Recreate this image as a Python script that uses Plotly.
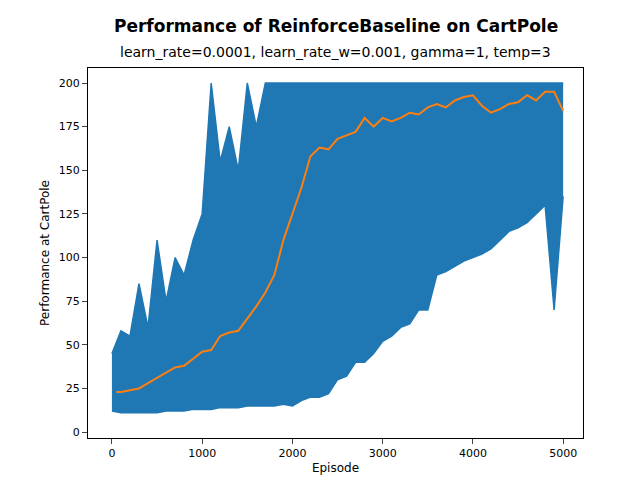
import plotly.graph_objects as go

# episodes sampled every 100 for the raw reward band
ep = list(range(0, 5001, 100))
upper = [45, 58, 55, 85, 60, 110, 75, 100, 90, 110, 125, 200, 155, 175, 150, 200, 175, 200, 200, 200,
         200, 200, 200, 200, 200, 200, 200, 200, 200, 200, 200, 200, 200, 200, 200, 200, 200, 200, 200, 200,
         200, 200, 200, 200, 200, 200, 200, 200, 200, 200, 200]
lower = [12, 11, 11, 11, 11, 11, 12, 12, 12, 13, 13, 13, 14, 14, 14, 15, 15, 15, 15, 16,
         15, 18, 20, 20, 22, 30, 32, 40, 40, 45, 52, 55, 60, 62, 70, 70, 90, 92, 95, 98,
         100, 102, 105, 110, 115, 117, 120, 125, 130, 70, 135]

# moving average
ma_ep = [50] + list(range(100, 5001, 100))
ma = [23, 23, 24, 25, 28, 31, 34, 37, 38, 42, 46, 47, 55, 57, 58, 65, 72, 80, 90, 110,
      125, 140, 158, 163, 162, 168, 170, 172, 180, 175, 180, 178, 180, 183, 182, 186, 188, 186, 190, 192,
      193, 187, 183, 185, 188, 189, 193, 190, 195, 195, 184]

blue = "#1f77b4"
fig = go.Figure()
fig.add_trace(go.Scatter(x=ep, y=lower, mode="lines", line=dict(color=blue, width=1.5)))
fig.add_trace(go.Scatter(x=ep, y=upper, mode="lines", line=dict(color=blue, width=1.5),
                         fill="tonexty", fillcolor=blue))
fig.add_trace(go.Scatter(x=ma_ep, y=ma, mode="lines", line=dict(color="#ff7f0e", width=2)))

axis = dict(showline=True, linecolor="black", mirror=True, ticks="outside", showgrid=False,
            zeroline=False, automargin=False, tickfont=dict(size=11, color="black"))
fig.update_layout(
    width=640, height=480, showlegend=False,
    paper_bgcolor="white", plot_bgcolor="white",
    margin=dict(l=80, r=65, t=60, b=50),
    font=dict(family="DejaVu Sans", color="black"),
    xaxis=dict(axis, range=[-265, 5220], tickvals=[0, 1000, 2000, 3000, 4000, 5000],
               title=dict(text="Episode", font=dict(size=12), standoff=4)),
    yaxis=dict(axis, range=[-3.4, 208.6], tickvals=list(range(0, 201, 25)),
               title=dict(text="Performance at CartPole", font=dict(size=12), standoff=6)),
    annotations=[
        dict(text="<b>Performance of ReinforceBaseline on CartPole</b>", x=0.5,
             y=1 + (60 - 18) / 370, xref="paper", yref="paper", yanchor="middle",
             showarrow=False, font=dict(size=17)),
        dict(text="learn_rate=0.0001, learn_rate_w=0.001, gamma=1, temp=3", x=0.5,
             y=1 + (60 - 44) / 370, xref="paper", yref="paper", yanchor="middle",
             showarrow=False, font=dict(size=14)),
    ],
)
fig.write_html("out.html")
